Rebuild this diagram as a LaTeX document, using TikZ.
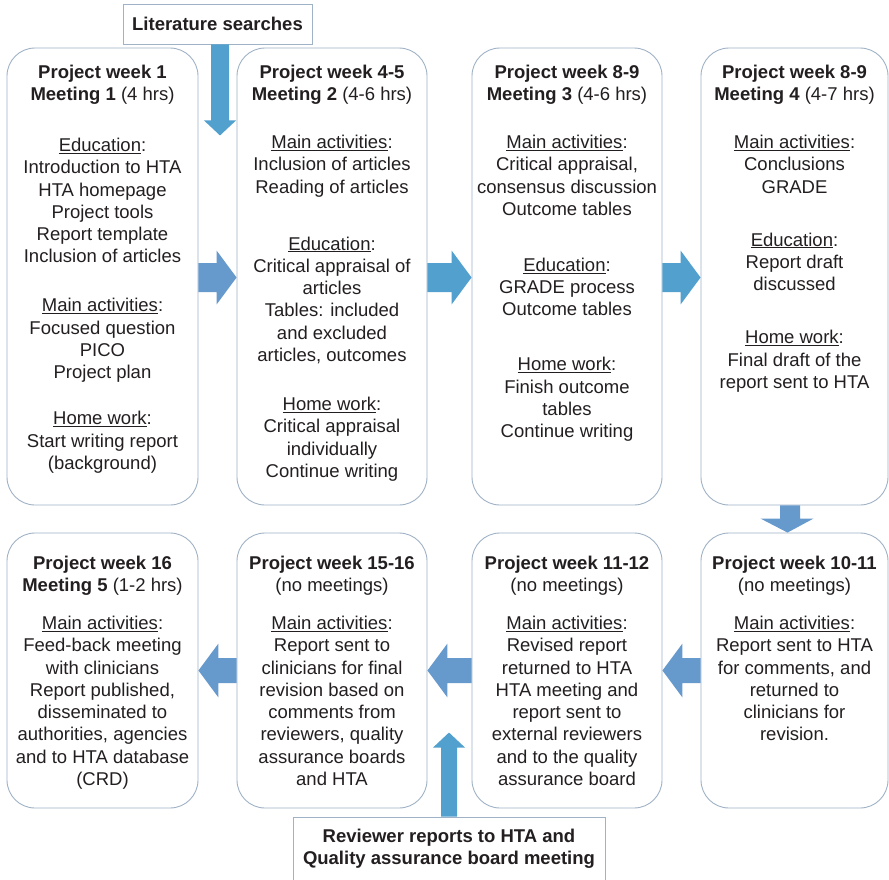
\documentclass[tikz,border=0pt]{standalone}
\usepackage{fontspec}
\setmainfont{Liberation Sans}
\usetikzlibrary{calc}

\definecolor{edge}{RGB}{160,178,198}
\definecolor{ink}{RGB}{35,31,32}
\definecolor{flowA}{RGB}{102,153,204}
\definecolor{flowB}{RGB}{82,160,206}

% underlined section heading followed by a colon
\newcommand\hd[1]{\underline{#1}:}

% block arrow pointing right, from the east side of #2 to the west side of #3
\newcommand\flowright[3]{%
  \fill[#1] let \p1=(#2.east), \p2=(#3.west) in
    (\x1,\y1+13.5pt) -- (\x2-20pt,\y1+13.5pt) -- (\x2-20pt,\y1+26pt) -- (\x2,\y1-1pt)
    -- (\x2-20pt,\y1-28pt) -- (\x2-20pt,\y1-15.5pt) -- (\x1,\y1-15.5pt) -- cycle;}
% block arrow pointing left, from the west side of #2 to the east side of #3
\newcommand\flowleft[3]{%
  \fill[#1] let \p1=(#2.west), \p2=(#3.east) in
    (\x1,\y1+12.5pt) -- (\x2+20pt,\y1+12.5pt) -- (\x2+20pt,\y1+27pt) -- (\x2,\y1)
    -- (\x2+20pt,\y1-27pt) -- (\x2+20pt,\y1-12.5pt) -- (\x1,\y1-12.5pt) -- cycle;}

\begin{document}
\begin{tikzpicture}[x=1pt,y=-1pt,
  stage/.style={draw=edge, line width=0.9pt, rounded corners=28pt,
    minimum width=190pt, inner sep=0pt},
  upper/.style={stage, minimum height=457pt},
  lower/.style={stage, minimum height=275pt},
  label/.style={draw=edge, line width=0.9pt, inner sep=0pt, text=ink,
    align=center, font={\fontsize{18.5}{22.3}\selectfont\bfseries}},
  body/.style={anchor=north, inner sep=0pt, text=ink, align=center,
    font={\fontsize{18.5}{22.3}\selectfont}}]

\useasboundingbox (0,0) rectangle (889,879);
\fill[white] (0,0) rectangle (889,879);

% stage boxes, upper row
\node[upper, minimum width=191pt] (b1) at (102.5,276.5) {};
\node[upper] (b2) at (332,276.5) {};
\node[upper] (b3) at (567,276.5) {};
\node[upper, minimum width=187pt] (b4) at (794.5,276.5) {};
% stage boxes, lower row
\node[lower, minimum width=187pt] (b5) at (794.5,670.5) {};
\node[lower] (b6) at (567,670.5) {};
\node[lower] (b7) at (332,670.5) {};
\node[lower, minimum width=191pt] (b8) at (102.5,670.5) {};

% input boxes
\node[label, minimum width=189pt, minimum height=40pt] (lit) at (217.5,24) {Literature searches};
\node[label, minimum width=312pt, minimum height=64pt] (rev) at (449,849)
  {Reviewer reports to HTA and\\Quality assurance board meeting};

% box contents
\node[body] (t1) at ($(b1.north)+(0,17)$) {%
  \textbf{Project week 1}\\ \textbf{Meeting 1} (4 hrs)\\[28.7pt]
  \hd{Education}\\ Introduction to HTA\\ HTA homepage\\ Project tools\\
  Report template\\ Inclusion of articles\\[26.7pt]
  \hd{Main activities}\\ Focused question\\ PICO\\ Project plan\\[23.7pt]
  \hd{Home work}\\ Start writing report\\ (background)};
\node[body] (t2) at ($(b2.north)+(0,17)$) {%
  \textbf{Project week 4-5}\\ \textbf{Meeting 2} (4-6 hrs)\\[25.7pt]
  \hd{Main activities}\\ Inclusion of articles\\ Reading of articles\\[34.7pt]
  \hd{Education}\\ Critical appraisal of\\ articles\\ Tables: included\\
  and excluded\\ articles, outcomes\\[26.7pt]
  \hd{Home work}\\ Critical appraisal\\ individually\\ Continue writing};
\node[body] (t3) at ($(b3.north)+(0,17)$) {%
  \textbf{Project week 8-9}\\ \textbf{Meeting 3} (4-6 hrs)\\[25.7pt]
  \hd{Main activities}\\ Critical appraisal,\\ consensus discussion\\ Outcome tables\\[33.7pt]
  \hd{Education}\\ GRADE process\\ Outcome tables\\[32.7pt]
  \hd{Home work}\\ Finish outcome\\ tables\\ Continue writing};
\node[body] (t4) at ($(b4.north)+(0,17)$) {%
  \textbf{Project week 8-9}\\ \textbf{Meeting 4} (4-7 hrs)\\[25.7pt]
  \hd{Main activities}\\ Conclusions\\ GRADE\\[30.7pt]
  \hd{Education}\\ Report draft\\ discussed\\[31pt]
  \hd{Home work}\\ Final draft of the\\ report sent to HTA};
\node[body] (t5) at ($(b5.north)+(0,23)$) {%
  \textbf{Project week 10-11}\\ (no meetings)\\[15.7pt]
  \hd{Main activities}\\ Report sent to HTA\\ for comments, and\\ returned to\\
  clinicians for\\ revision.};
\node[body] (t6) at ($(b6.north)+(0,23)$) {%
  \textbf{Project week 11-12}\\ (no meetings)\\[15.7pt]
  \hd{Main activities}\\ Revised report\\ returned to HTA\\ HTA meeting and\\
  report sent to\\ external reviewers\\ and to the quality\\ assurance board};
\node[body] (t7) at ($(b7.north)+(0,23)$) {%
  \textbf{Project week 15-16}\\ (no meetings)\\[15.7pt]
  \hd{Main activities}\\ Report sent to\\ clinicians for final\\ revision based on\\
  comments from\\ reviewers, quality\\ assurance boards\\ and HTA};
\node[body] (t8) at ($(b8.north)+(0,23)$) {%
  \textbf{Project week 16}\\ \textbf{Meeting 5} (1-2 hrs)\\[15.7pt]
  \hd{Main activities}\\ Feed-back meeting\\ with clinicians\\ Report published,\\
  disseminated to\\ authorities, agencies\\ and to HTA database\\ (CRD)};

% flow between the stages
\flowright{flowA}{b1}{b2}
\flowright{flowB}{b2}{b3}
\flowright{flowB}{b3}{b4}
\fill[flowA] let \p1=(b4.south), \p2=(b5.north) in
  (\x1-14.5pt,\y1) -- (\x1-14.5pt,\y2+14pt) -- (\x1-34pt,\y2+14pt) -- (\x1-7pt,\y2)
  -- (\x1+19pt,\y2+14pt) -- (\x1+5.5pt,\y2+14pt) -- (\x1+5.5pt,\y1) -- cycle;
\flowleft{flowA}{b5}{b6}
\flowleft{flowA}{b6}{b7}
\flowleft{flowA}{b7}{b8}

% inputs from outside
\fill[flowB] let \p1=(lit.south) in
  (\x1-6.5pt,\y1) -- (\x1-6.5pt,\y1-76pt) -- (\x1-13.5pt,\y1-76pt) -- (\x1+2.5pt,\y1-91pt)
  -- (\x1+18.5pt,\y1-76pt) -- (\x1+11.5pt,\y1-76pt) -- (\x1+11.5pt,\y1) -- cycle;
\fill[flowB] let \p1=(rev.north) in
  (\x1-8pt,\y1) -- (\x1-8pt,\y1+69pt) -- (\x1-16pt,\y1+69pt) -- (\x1,\y1+84pt)
  -- (\x1+16pt,\y1+69pt) -- (\x1+8pt,\y1+69pt) -- (\x1+8pt,\y1) -- cycle;

\end{tikzpicture}
\end{document}
